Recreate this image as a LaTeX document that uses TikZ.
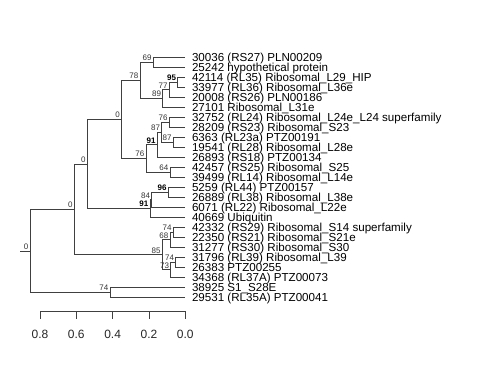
\documentclass[tikz,border=0pt]{standalone}
\usepackage{fontspec}
\setmainfont{Liberation Sans}
\begin{document}
\begin{tikzpicture}[x=1pt,y=-1pt,
  br/.style={draw=black!75,line width=0.7pt},
  leaflab/.style={anchor=base west,inner sep=0pt,font=\fontsize{11.6}{12}\selectfont},
  bl/.style={anchor=south east,inner sep=0pt,font=\fontsize{8}{9}\selectfont,text=black!80},
  bbl/.style={bl,font=\fontsize{8}{9}\selectfont\bfseries,text=black},
  axlab/.style={anchor=center,inner sep=0pt,font=\fontsize{12}{13}\selectfont,text=black!85}]
\useasboundingbox (0,0) rectangle (480,384);
% leaves
\foreach \i/\t in {0/{30036 (RS27) PLN00209},1/{25242 hypothetical protein},2/{42114 (RL35) Ribosomal\_L29\_HIP},3/{33977 (RL36) Ribosomal\_L36e},4/{20008 (RS26) PLN00186},5/{27101 Ribosomal\_L31e},6/{32752 (RL24) Ribosomal\_L24e\_L24 superfamily},7/{28209 (RS23) Ribosomal\_S23},8/{6363 (RL23a) PTZ00191},9/{19541 (RL28) Ribosomal\_L28e},10/{26893 (RS18) PTZ00134},11/{42457 (RS25) Ribosomal\_S25},12/{39499 (RL14) Ribosomal\_L14e},13/{5259 (RL44) PTZ00157},14/{26889 (RL38) Ribosomal\_L38e},15/{6071 (RL22) Ribosomal\_L22e},16/{40669 Ubiquitin},17/{42332 (RS29) Ribosomal\_S14 superfamily},18/{22350 (RS21) Ribosomal\_S21e},19/{31277 (RS30) Ribosomal\_S30},20/{31796 (RL39) Ribosomal\_L39},21/{26383 PTZ00255},22/{34368 (RL37A) PTZ00073},23/{38925 S1\_S28E},24/{29531 (RL35A) PTZ00041}}{
  \coordinate (L\i) at (185.3,57.3+10*\i);
  \node[leaflab] (t\i) at ([xshift=6.5pt,yshift=-4.15pt]L\i) {\t};
}
% internal nodes
\coordinate (n69) at (153.3,62.3);
\coordinate (n95) at (177.7,82.3);
\coordinate (n77) at (169.3,89.8);
\coordinate (n89) at (162.7,98.55);
\coordinate (n78) at (140,80.4);
\coordinate (n76a) at (169.3,122.3);
\coordinate (n87b) at (173.3,142.3);
\coordinate (n87a) at (161.7,132.3);
\coordinate (n91a) at (157.3,144.8);
\coordinate (n64) at (170,172.3);
\coordinate (n76b) at (146,158.55);
\coordinate (nC) at (121.5,119.5);
\coordinate (n96) at (168.3,192.3);
\coordinate (n84) at (151.7,199.8);
\coordinate (n91b) at (150,208.55);
\coordinate (nB) at (87.3,164);
\coordinate (n74a) at (173.3,232.3);
\coordinate (n68) at (170,239.8);
\coordinate (n74b) at (175.7,262.3);
\coordinate (n73) at (170.7,269.8);
\coordinate (n85) at (162.3,254.8);
\coordinate (nA) at (74.3,209.4);
\coordinate (n74c) at (110,292.3);
\coordinate (root) at (30,250.85);
\coordinate (stub) at (20,250.85);
% branches
\foreach \p/\c in {n69/L0,n69/L1,n95/L2,n95/L3,n77/n95,n77/L4,n89/n77,n89/L5,n78/n69,n78/n89,
  n76a/L6,n76a/L7,n87b/L8,n87b/L9,n87a/n76a,n87a/n87b,n91a/n87a,n91a/L10,n64/L11,n64/L12,
  n76b/n91a,n76b/n64,nC/n78,nC/n76b,n96/L13,n96/L14,n84/n96,n84/L15,n91b/n84,n91b/L16,
  nB/nC,nB/n91b,n74a/L17,n74a/L18,n68/n74a,n68/L19,n74b/L20,n74b/L21,n73/n74b,n73/L22,
  n85/n68,n85/n73,nA/nB,nA/n85,n74c/L23,n74c/L24,root/nA,root/n74c}
  \draw[br] (\p) |- (\c);
\draw[br] (stub) -- (root);
% node labels
\foreach \n/\t in {n69/69,n77/77,n89/89,n78/78,n76a/76,n87b/87,n87a/87,n64/64,n76b/76,nC/0,
  n84/84,nB/0,n74a/74,n68/68,n74b/74,n73/73,n85/85,nA/0,n74c/74,root/0}
  \node[bl] (lab\n) at ([xshift=-1.5pt,yshift=1.5pt]\n) {\t};
\foreach \n/\t in {n95/95,n91a/91,n96/96,n91b/91}
  \node[bbl] (lab\n) at ([xshift=-1.5pt,yshift=1.5pt]\n) {\t};
% axis
\coordinate (a0) at (40,311);
\coordinate (a4) at (185.3,311);
\draw[br] (a0) -- (a4);
\foreach \k/\v in {0/0.8,1/0.6,2/0.4,3/0.2,4/0.0}{
  \coordinate (tk\k) at (40+36.325*\k,311);
  \draw[br] (tk\k) -- ++(0,8.3);
  \node[axlab] (ax\k) at ([yshift=-23pt]tk\k) {\v};
}
\end{tikzpicture}
\end{document}
